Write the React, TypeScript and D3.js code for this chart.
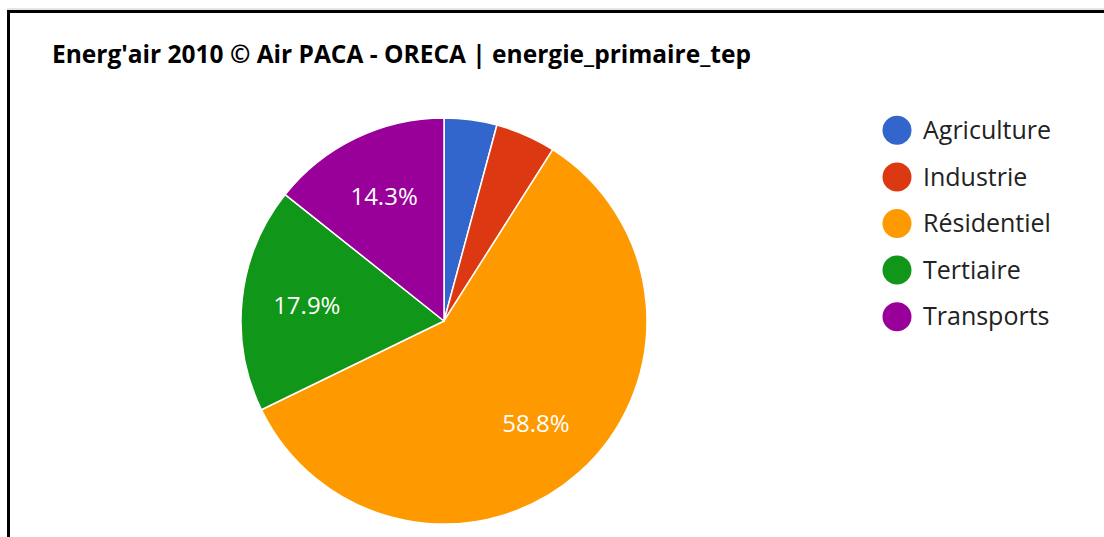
import React from "react";
import * as d3 from "d3";

const categories = ["Agriculture", "Industrie", "Résidentiel", "Tertiaire", "Transports"];
const values = [4.2, 4.8, 58.8, 17.9, 14.3];
const colors = ["#3366cc", "#dc3912", "#ff9900", "#109618", "#990099"];
const title = "Energ'air 2010 © Air PACA - ORECA | energie_primaire_tep";

const W = 1104;
const H = 537;
const cx = 444;
const cy = 321;
const R = 203;

export default function App() {
  const data = categories.map((c, i) => ({ name: c, value: values[i], color: colors[i] }));
  const total = d3.sum(values);
  const pie = d3.pie<any>().value((d: any) => d.value).sort(null);
  const arcs = pie(data);
  const arc = d3.arc<any>().innerRadius(0).outerRadius(R);
  const labelArc = d3.arc<any>().innerRadius(R * 0.68).outerRadius(R * 0.68);
  const legendY = d3.scaleBand<string>().domain(categories).range([107, 340]);

  return (
    <svg
      width={W}
      height={H}
      style={{ position: "absolute", left: 0, top: 0, background: "#fff" }}
      fontFamily="'Open Sans', sans-serif"
    >
      <rect x={0} y={0} width={W} height={H} fill="#fff" />
      <line x1={7} y1={9} x2={W} y2={9} stroke="#ccc" strokeWidth={1} />
      <line x1={8.5} y1={11.5} x2={W} y2={11.5} stroke="#000" strokeWidth={3} />
      <line x1={8.5} y1={10} x2={8.5} y2={H} stroke="#000" strokeWidth={3} />
      <text x={52} y={63} fontSize={24.5} fontWeight="bold" fill="#000">
        {title}
      </text>
      <g transform={`translate(${cx},${cy})`}>
        {arcs.map((a, i) => (
          <path key={i} d={arc(a) || ""} fill={a.data.color} stroke="#fff" strokeWidth={1.5} />
        ))}
        {arcs.map((a, i) => {
          const pct = (a.data.value / total) * 100;
          if (pct < 10) return null;
          const [x, y] = labelArc.centroid(a);
          return (
            <text key={"l" + i} x={x} y={y} dy="0.35em" textAnchor="middle" fontSize={24} fill="#fff">
              {pct.toFixed(1) + "%"}
            </text>
          );
        })}
      </g>
      <g>
        {categories.map((c, i) => {
          const y = (legendY(c) || 0) + legendY.bandwidth() / 2;
          return (
            <g key={c}>
              <circle cx={897} cy={y} r={14.5} fill={colors[i]} />
              <text x={923} y={y} dy="0.35em" fontSize={25} fill="#222">
                {c}
              </text>
            </g>
          );
        })}
      </g>
    </svg>
  );
}
